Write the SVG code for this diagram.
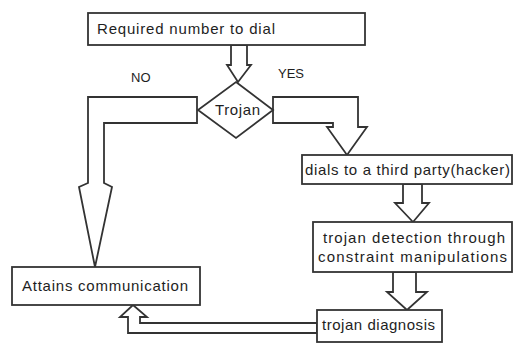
<svg xmlns="http://www.w3.org/2000/svg" width="517" height="343" viewBox="0 0 517 343">
<style>
.box{fill:#fff;stroke:#333;stroke-width:1.8}
.arr{fill:#fff;stroke:#333;stroke-width:1.8;stroke-linejoin:miter}
.t{font-family:"Liberation Sans",Arial,sans-serif;font-size:15px;fill:#1e1e1e}
.s{font-size:13px}
</style>
<rect width="517" height="343" fill="#fff"/>
<g id="connectors">
<polygon class="arr" points="231,45 231,65 227,65 238,82 251,65 247,65 247,45"/>
<polygon class="arr" points="197,97 88,97 88,183 79,187 95,267 112,187 104,183 104,123 197,123"/>
<polygon class="arr" points="273,97 358,97 358,127 367,127 347,155 327,127 333,127 333,123 273,123"/>
<polygon class="arr" points="403,184 403,203 395,203 413,222 429,203 422,203 422,184"/>
<polygon class="arr" points="393,272 393,292 387,292 407,310 427,292 416,292 416,272"/>
<polygon class="arr" points="317,323 140,323 140,317 147,317 133,305 120,317 128,317 128,333 317,333"/>
</g>
<g id="n1">
<rect class="box" x="88" y="13" width="277" height="32"/>
<text class="t" x="97" y="34" textLength="178">Required number to dial</text>
</g>
<g id="n2">
<polygon class="box" points="236,82 273,110 236,138 198,110"/>
<text class="t" x="215" y="115" textLength="45">Trojan</text>
</g>
<g id="lbl-no"><text class="t s" x="131" y="82">NO</text></g>
<g id="lbl-yes"><text class="t s" x="278" y="78">YES</text></g>
<g id="n3">
<rect class="box" x="302" y="155" width="210" height="29"/>
<text class="t" x="305" y="175" textLength="205">dials to a third party(hacker)</text>
</g>
<g id="n4">
<rect class="box" x="313" y="222" width="199" height="50"/>
<text class="t" x="323" y="243" textLength="182">trojan detection through</text>
<text class="t" x="318" y="262" textLength="189">constraint manipulations</text>
</g>
<g id="n5">
<rect class="box" x="317" y="310" width="125" height="32"/>
<text class="t" x="322" y="330" textLength="113">trojan diagnosis</text>
</g>
<g id="n6">
<rect class="box" x="12" y="267" width="188" height="38"/>
<text class="t" x="22" y="291" textLength="166">Attains communication</text>
</g>
</svg>
